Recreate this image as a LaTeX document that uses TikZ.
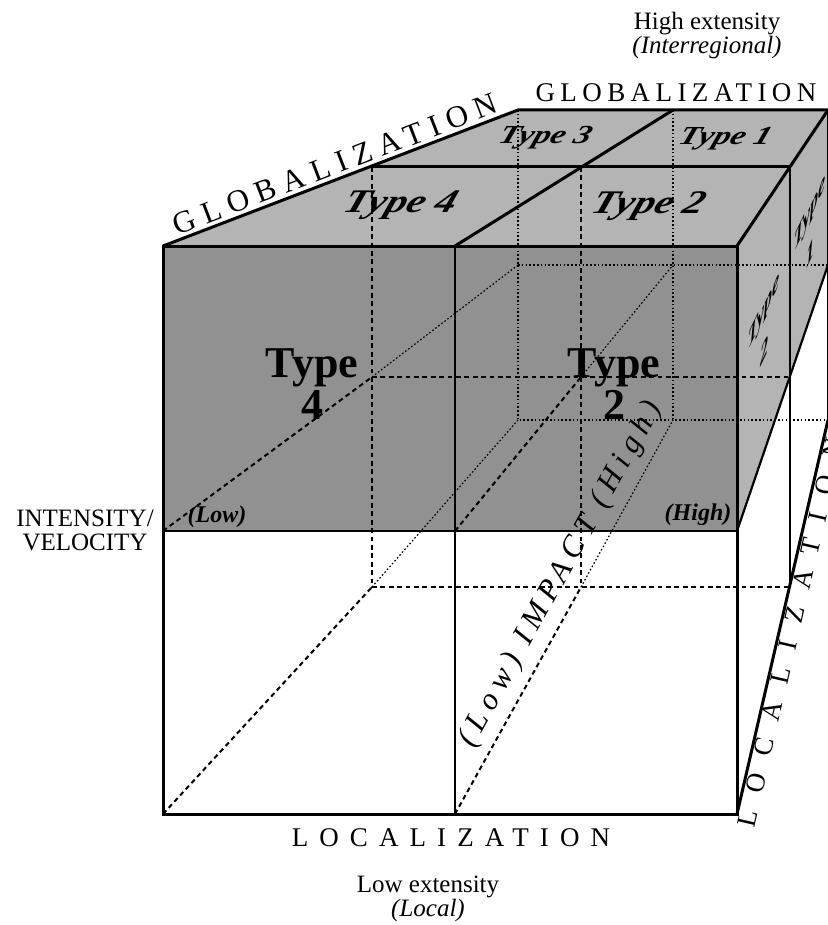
\documentclass[tikz,border=0pt]{standalone}
\usepackage{fontspec}
\setmainfont{Liberation Serif}
\newcommand{\spreadout}[2]{{\addfontfeatures{LetterSpace=#1}#2}}
\begin{document}
\begin{tikzpicture}[x=0.5pt,y=-0.5pt,
  edge/.style={line width=1.5pt},
  midline/.style={line width=1.1pt},
  hidden/.style={line width=1pt,dash pattern=on 2.4pt off 1.8pt},
  faint/.style={line width=0.6pt,dash pattern=on 0.8pt off 1.1pt},
  bigtype/.style={font=\fontsize{22}{21}\selectfont\bfseries,align=center,inner sep=0pt},
  lidtype/.style={font=\fontsize{16.5}{18}\selectfont\bfseries\itshape,xslant=0.35,xscale=1.25,inner sep=0pt},
  backtype/.style={font=\fontsize{13}{14}\selectfont\bfseries\itshape,xslant=0.35,xscale=1.3,inner sep=0pt},
  sidetype/.style={font=\fontsize{8}{13}\selectfont\bfseries\itshape,align=center,inner sep=0pt,yslant=2.1,yscale=1.6},
  caption/.style={font=\fontsize{12.5}{12}\selectfont,align=center,inner sep=0pt},
  axis/.style={font=\fontsize{13.5}{14}\selectfont,inner sep=0pt}]
\definecolor{frontgray}{RGB}{145,145,145}
\definecolor{lidgray}{RGB}{180,180,180}
\useasboundingbox (0,0) rectangle (827,925);

	\fill[lidgray] (163,246) -- (737,246) -- (828,110) -- (518,110) -- cycle;
	\fill[lidgray] (737,246) -- (828,110) -- (828,265) -- (737,531) -- cycle;
	\fill[frontgray] (163,246) rectangle (737,531);

	% back plane
	\draw[faint] (518,110) -- (518,420) -- (828,420);
	\draw[faint] (673,110) -- (673,420);
	\draw[faint] (518,265) -- (828,265);
	\draw[faint] (372,377) -- (518,265);
	\draw[faint] (372,587) -- (518,420);
	\draw[faint] (581,377) -- (673,265);
	\draw[faint] (581,587) -- (673,420);

	% middle plane
	\draw[hidden] (372,167) -- (372,587) -- (790,587);
	\draw[hidden] (372,377) -- (790,377);
	\draw[hidden] (581,167) -- (581,587);
	\draw[hidden] (163,814) -- (372,587);
	\draw[hidden] (163,531) -- (372,377);
	\draw[hidden] (455,531) -- (581,377);
	\draw[hidden] (455,814) -- (581,587);

	% front and lid
	\draw[midline] (163,531) -- (737,531);
	\draw[midline] (455,246) -- (455,814);
	\draw[edge] (163,246) rectangle (737,814);
	\draw[edge] (163,246) -- (518,110) -- (828,110);
	\draw[edge] (372,167) -- (790,167);
	\draw[edge] (455,246) -- (673,110);
	\draw[edge] (737,246) -- (828,110);
	\draw[midline] (790,167) -- (790,587);
	\draw[midline] (737,531) -- (828,265);
	\draw[edge] (737,814) -- (828,420);
	\draw[edge] (828,110) -- (828,420);

	\node[bigtype] (T4) at (312,384) {Type\\4};
	\node[bigtype] (T2) at (614,384) {Type\\2};
	\node[lidtype] (L4) at (400,205) {Type 4};
	\node[lidtype] (L2) at (648,206) {Type 2};
	\node[backtype] (L3) at (545,138) {Type 3};
	\node[backtype] (L1) at (725,139) {Type 1};
	\node[sidetype] (S2) at (764,330) {Type\\2};
	\node[sidetype] (S1) at (810,232) {Type\\1};

	\node[font=\fontsize{12}{12}\selectfont\bfseries\itshape] (low) at (217,517) {(Low)};
	\node[font=\fontsize{12}{12}\selectfont\bfseries\itshape] (high) at (698,515) {(High)};
	\path (455,814) -- (673,420) node[pos=0.58,above=1pt,sloped,font=\fontsize{15.5}{15}\selectfont\itshape] (impact) {\spreadout{22}{(Low) IMPACT (High)}};

	\node[axis] (gtop) at (676,93) {\spreadout{20}{GLOBALIZATION}};
	\path (163,246) -- (518,110) node[midway,above=2pt,sloped,axis,font=\fontsize{15.5}{16}\selectfont] (gside) {\spreadout{26}{GLOBALIZATION}};
	\node[axis] (lbot) at (451,838) {\spreadout{41}{LOCALIZATION}};
	\path (737,814) -- (828,420) node[pos=0.467,below=1pt,sloped,axis] (lside) {\spreadout{68}{LOCALIZATION}};

	\node[caption] (iv) at (85,530) {INTENSITY/\\VELOCITY};
	\node[caption] (hx) at (707,35) {High extensity\\\textit{(Interregional)}};
	\node[caption] (lx) at (428,899) {Low extensity\\\textit{(Local)}};

\end{tikzpicture}
\end{document}
